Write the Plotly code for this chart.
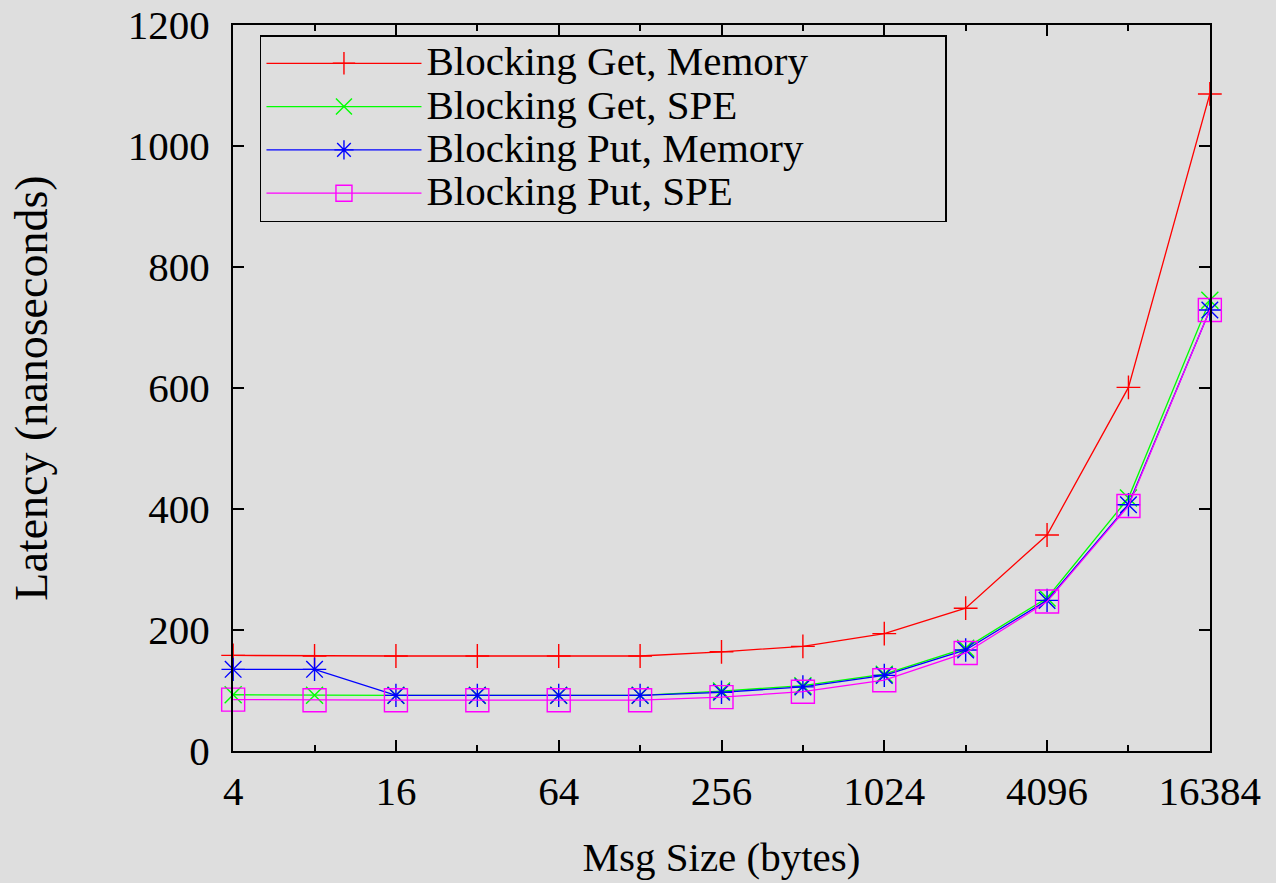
import math
import plotly.graph_objects as go

msg_size = [4, 8, 16, 32, 64, 128, 256, 512, 1024, 2048, 4096, 8192, 16384]
get_memory = [158, 157, 157, 157, 157, 157, 164, 173, 194, 236, 357, 601, 1086]
get_spe = [93, 92, 92, 92, 92, 92, 99, 108, 127, 170, 253, 418, 745]
put_memory = [135, 135, 92, 92, 92, 92, 97, 106, 125, 167, 249, 407, 729]
put_spe = [85, 84, 84, 84, 84, 84, 89, 98, 117, 162, 247, 405, 729]

names = ["Blocking Get, Memory", "Blocking Get, SPE", "Blocking Put, Memory", "Blocking Put, SPE"]
series = [get_memory, get_spe, put_memory, put_spe]
colors = ["#ff0000", "#00ff00", "#0000ff", "#ff00ff"]
symbols = ["cross-thin", "x-thin", "asterisk", "square-open"]
sizes = [17, 17, 19.5, 23]

major_ticks = [4, 16, 64, 256, 1024, 4096, 16384]
minor_ticks = [8, 32, 128, 512, 2048, 8192]
y_ticks = [0, 200, 400, 600, 800, 1000, 1200]

FONT = "Times New Roman, Liberation Serif, serif"
BG = "#dedede"

fig = go.Figure()
for name, ys, c, s, sz in zip(names, series, colors, symbols, sizes):
    fig.add_trace(go.Scatter(
        x=msg_size, y=ys, mode="lines+markers",
        name='<span style="font-size:41px">' + name + '</span>',
        line=dict(color=c, width=1.3),
        marker=dict(symbol=s, size=sz, color=c, line=dict(color=c, width=1.4)),
        cliponaxis=False,
    ))

pad = 0.0006
fig.update_layout(
    width=1276, height=883,
    paper_bgcolor=BG, plot_bgcolor=BG,
    margin=dict(l=233, r=66, t=25, b=132, autoexpand=False),
    font=dict(family=FONT, size=41, color="black"),
    showlegend=True,
    legend=dict(
        orientation="h",
        x=0.0276, y=0.986, xanchor="left", yanchor="top",
        bgcolor=BG, bordercolor="black", borderwidth=1.5,
        font=dict(family=FONT, size=31, color="black"),
        itemwidth=155, tracegroupgap=0,
        entrywidth=514, entrywidthmode="pixels",
    ),
)
fig.update_xaxes(
    type="log", range=[math.log10(msg_size[0]) - pad, math.log10(msg_size[-1]) + pad],
    tickmode="array", tickvals=major_ticks, ticktext=[str(v) for v in major_ticks],
    ticks="inside", ticklen=11, tickwidth=1.5, tickcolor="black",
    tickfont=dict(family=FONT, size=41, color="black"),
    minor=dict(tickmode="array", tickvals=minor_ticks, ticks="inside", ticklen=6, tickwidth=1.5, tickcolor="black"),
    showline=True, linecolor="black", linewidth=2, mirror="ticks",
    showgrid=False, zeroline=False, ticklabelstandoff=3, automargin=False,
    title=dict(text="Msg Size (bytes)", standoff=29, font=dict(family=FONT, size=41, color="black")),
)
fig.update_yaxes(
    range=[0, 1200], tickmode="array", tickvals=y_ticks,
    ticks="inside", ticklen=11, tickwidth=1.5, tickcolor="black",
    tickfont=dict(family=FONT, size=41, color="black"),
    showline=True, linecolor="black", linewidth=2, mirror="ticks",
    showgrid=False, zeroline=False, ticklabelstandoff=13, automargin=False,
    title=dict(text="Latency (nanoseconds)", standoff=66, font=dict(family=FONT, size=46, color="black")),
)
fig.write_html("out.html")
